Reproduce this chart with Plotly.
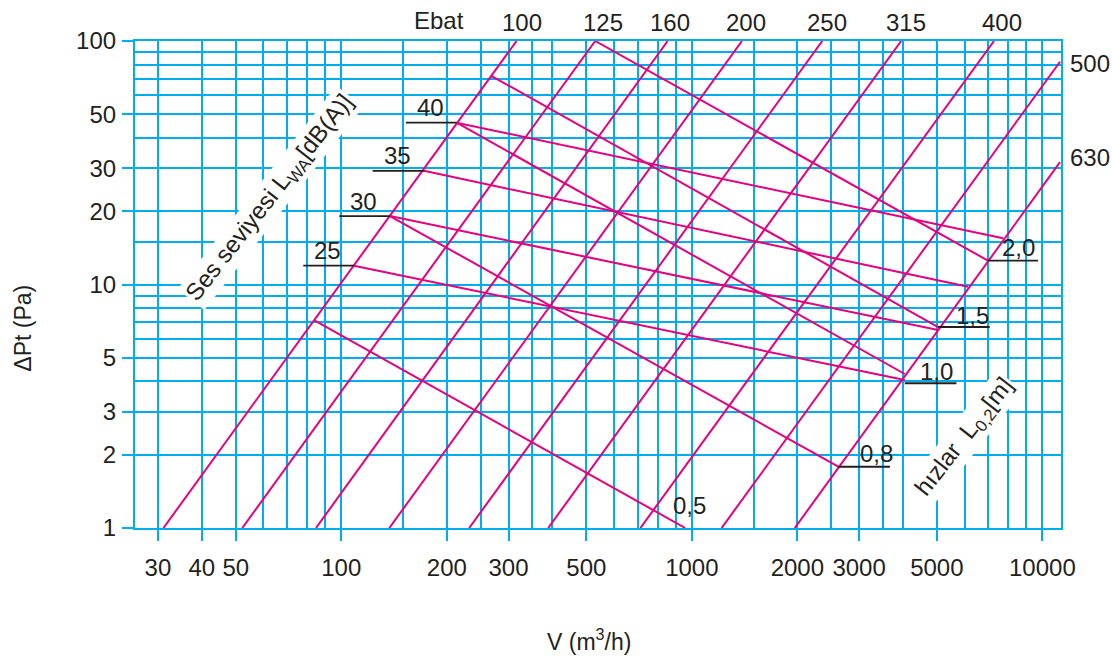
import math
import plotly.graph_objects as go

# ---------------- data ----------------
x_tick_vals = [30, 40, 50, 100, 200, 300, 500, 1000, 2000, 3000, 5000, 10000]
x_minor_vals = [60, 70, 80, 90, 150, 250, 350, 400, 600, 700, 800, 900,
                1500, 2500, 3500, 4000, 6000, 7000, 8000, 9000]
y_tick_vals = [1, 2, 3, 5, 10, 20, 30, 50, 100]
y_minor_vals = [4, 6, 7, 8, 9, 15, 40, 60, 70, 80, 90]
v_range = [25.8, 11300]
p_range = [1, 100]

# size (Ebat) lines: dP ~ V^2
ebat_sizes = ["100", "125", "160", "200", "250", "315", "400", "500", "630"]
ebat_v_start = [31.1, 52.2, 84.7, 137.1, 231.7, 389.3, 713.3, 1216, 1966]
ebat_p_start = [1, 1, 1, 1, 1, 1, 1, 1, 1]
ebat_v_end = [316.3, 530.1, 853.1, 1390, 2356, 3955, 7278, 11226, 11226]
ebat_p_end = [100, 100, 100, 100, 100, 100, 100, 82.2, 31.8]

# sound level lines LWA [dB(A)]
sound_levels = ["40", "35", "30", "25"]
sound_v_start = [213.3, 172.1, 137.7, 108.7]
sound_p_start = [46.2, 29.3, 19.1, 11.95]
sound_v_end = [7721, 6136, 5040, 4049]
sound_p_end = [15.48, 9.79, 6.50, 4.05]
sound_tag_v = [152.9, 122.9, 98.7, 77.9]

# throw lines L0,2 [m]
throw_values = ["2,0", "1,5", "1,0", "0,8", "0,5"]
throw_v_start = [530.1, 268.5, 213.3, 137.7, 84.1]
throw_p_start = [100, 71.8, 46.2, 19.1, 7.10]
throw_v_end = [6997, 5040, 4049, 2617, 957.6]
throw_p_end = [12.53, 6.69, 4.29, 1.785, 1.0]
throw_tag_v0 = [6997, 5040, 4049, 2617]
throw_tag_v1 = [9716, 7075, 5686, 3675]
throw_tag_p = [12.53, 6.69, 3.93, 1.785]

# ---------------- style ----------------
CYAN = "#00AEEF"
MAGENTA = "#E5007E"
TXT = "#231F20"
FONT = "Liberation Sans, Arial, Helvetica, sans-serif"
FS = 24
GW = 2.2

fig = go.Figure()


def seg(xs, ys, color, width):
    fig.add_trace(go.Scatter(x=xs, y=ys, mode="lines",
                             line=dict(color=color, width=width),
                             hoverinfo="skip", showlegend=False))


for i in range(len(ebat_sizes)):
    seg([ebat_v_start[i], ebat_v_end[i]], [ebat_p_start[i], ebat_p_end[i]], MAGENTA, 2)
for i in range(len(sound_levels)):
    seg([sound_v_start[i], sound_v_end[i]], [sound_p_start[i], sound_p_end[i]], MAGENTA, 2)
for i in range(len(throw_values)):
    seg([throw_v_start[i], throw_v_end[i]], [throw_p_start[i], throw_p_end[i]], MAGENTA, 2)
# underlines
for i in range(len(sound_levels)):
    seg([sound_tag_v[i], sound_v_start[i]], [sound_p_start[i], sound_p_start[i]], TXT, 1.8)
for i in range(len(throw_tag_v0)):
    seg([throw_tag_v0[i], throw_tag_v1[i]], [throw_tag_p[i], throw_tag_p[i]], TXT, 1.8)

ann = []
lg = math.log10
# Ebat labels on top
top_shift = [5, 8, 2, 4, 5, 5, 8]
for i in range(7):
    ann.append(dict(x=lg(ebat_v_end[i]), xref="x", y=1, yref="paper",
                    text=ebat_sizes[i], showarrow=False, xshift=top_shift[i],
                    yshift=19, xanchor="center", yanchor="middle"))
right_shift = [-2, 5]
for k, i in enumerate([7, 8]):
    ann.append(dict(x=1, xref="paper", y=lg(ebat_p_end[i]), yref="y",
                    text=ebat_sizes[i], showarrow=False, xshift=29,
                    yshift=right_shift[k], xanchor="center", yanchor="middle"))
ann.append(dict(x=(439 - 135) / 926, xref="paper", y=1, yref="paper", text="Ebat",
                showarrow=False, yshift=21, xanchor="center", yanchor="middle"))
# sound labels
for i in range(len(sound_levels)):
    ann.append(dict(x=lg(sound_v_start[i]), y=lg(sound_p_start[i]), xref="x", yref="y",
                    text=sound_levels[i], showarrow=False, xshift=-26, yshift=15,
                    xanchor="center", yanchor="middle"))
# throw labels
th_dx = [30, 34, 32, 38, 4]
th_dy = [13, 12, 12, 13, 23]
th_ref_v = throw_tag_v0 + [throw_v_end[4]]
th_ref_p = throw_tag_p + [throw_p_end[4]]
for i in range(len(throw_values)):
    ann.append(dict(x=lg(th_ref_v[i]), y=lg(th_ref_p[i]), xref="x", yref="y",
                    text=throw_values[i], showarrow=False, xshift=th_dx[i], yshift=th_dy[i],
                    xanchor="center", yanchor="middle"))
# rotated captions
ann.append(dict(x=0.1468, y=0.678, xref="paper", yref="paper",
                text="Ses seviyesi L<sub>WA</sub>[dB(A)]", textangle=-52,
                showarrow=False, bgcolor="white", borderpad=1,
                xanchor="center", yanchor="middle"))
ann.append(dict(x=0.896, y=0.186, xref="paper", yref="paper",
                text="hızlar\u00a0\u00a0L<sub>0,2</sub>[m]", textangle=-52,
                showarrow=False, bgcolor="white", borderpad=1,
                xanchor="center", yanchor="middle"))
# axis titles
ann.append(dict(x=-0.1206, y=0.410, xref="paper", yref="paper", text="ΔPt (Pa)",
                textangle=-90, showarrow=False, xanchor="center", yanchor="middle",
                font=dict(size=23)))
ann.append(dict(x=0.4903, y=-0.230, xref="paper", yref="paper",
                text="V (m<sup>3</sup>/h)", showarrow=False,
                xanchor="center", yanchor="middle", font=dict(size=23)))

axis_common = dict(type="log", tickmode="array", ticks="outside", ticklen=11,
                   tickwidth=GW, tickcolor=CYAN, showgrid=True, gridcolor=CYAN,
                   gridwidth=GW, showline=True, linecolor=CYAN, linewidth=GW,
                   mirror=True, zeroline=False, tickfont=dict(size=FS, color=TXT, family=FONT))

fig.update_layout(
    width=1112, height=656,
    margin=dict(l=135, r=51, t=41, b=128),
    paper_bgcolor="white", plot_bgcolor="white",
    font=dict(family=FONT, size=FS, color=TXT),
    xaxis=dict(range=[lg(v_range[0]), lg(v_range[1])], tickvals=x_tick_vals,
               ticktext=[str(v) for v in x_tick_vals], ticklabelstandoff=6,
               minor=dict(tickmode="array", tickvals=x_minor_vals, showgrid=True,
                          gridcolor=CYAN, gridwidth=GW, ticks=""),
               **axis_common),
    yaxis=dict(range=[lg(p_range[0]), lg(p_range[1])], tickvals=y_tick_vals,
               ticktext=[str(v) for v in y_tick_vals], ticklabelstandoff=1,
               minor=dict(tickmode="array", tickvals=y_minor_vals, showgrid=True,
                          gridcolor=CYAN, gridwidth=GW, ticks=""),
               **axis_common),
    annotations=ann,
    showlegend=False,
)

fig.write_html(
    "out.html",
    config={"displayModeBar": False},
    post_script=("document.documentElement.style.overflow='hidden';"
                 "document.body.style.margin='0';"
                 "document.body.style.overflow='hidden';"),
)
